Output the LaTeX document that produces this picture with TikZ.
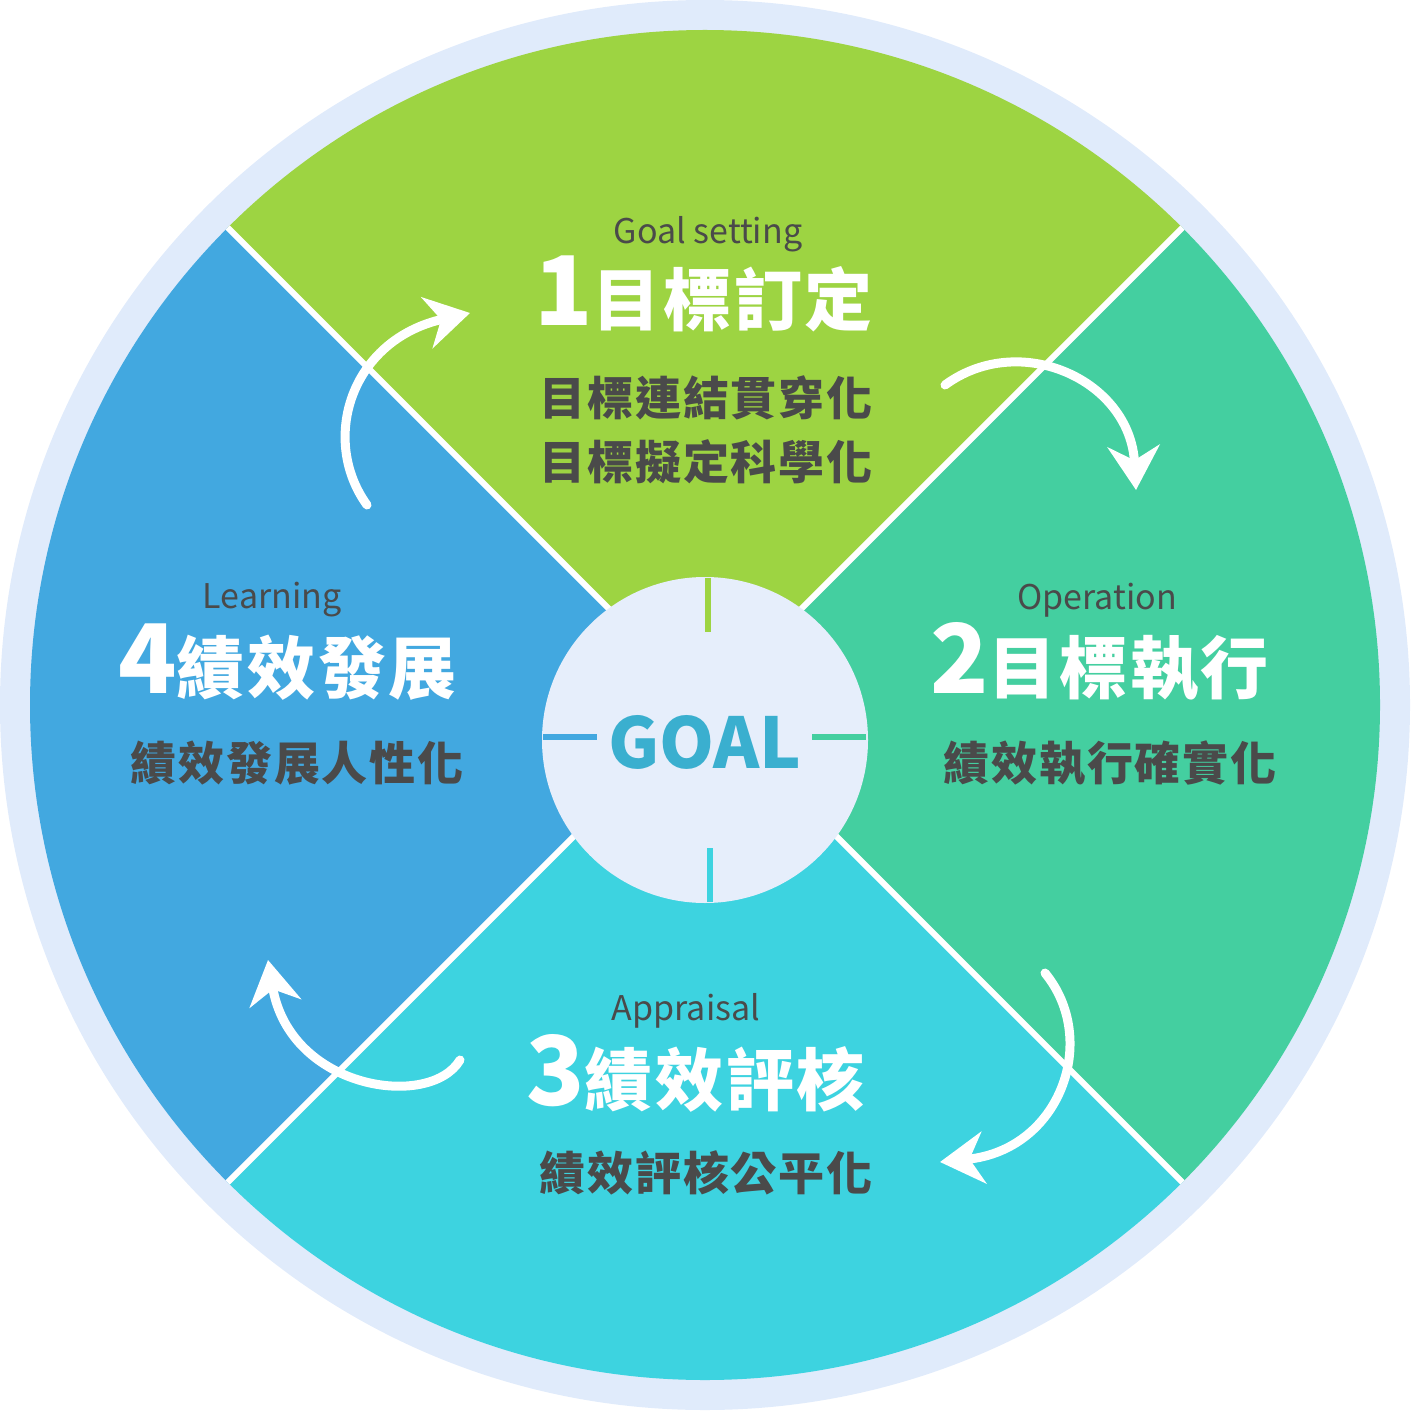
\documentclass[tikz,border=0pt]{standalone}
\usepackage{fontspec}
\setmainfont{Noto Sans CJK TC}
\newfontfamily\spaced[LetterSpace=4]{Noto Sans CJK TC}
\usetikzlibrary{arrows.meta}
\definecolor{ringc}{HTML}{E0EBFB}
\definecolor{goalg}{HTML}{9DD442}
\definecolor{operg}{HTML}{44CFA0}
\definecolor{apprc}{HTML}{3DD3E0}
\definecolor{learnb}{HTML}{42A8E0}
\definecolor{hubc}{HTML}{E6EEFB}
\definecolor{textc}{HTML}{4A4A4A}
\definecolor{goalc}{HTML}{3AAFCF}
\newcommand{\bignum}[1]{{\fontsize{48}{48}\selectfont #1}}
\tikzset{
  engl/.style={text=textc,font=\fontsize{17}{17}\selectfont},
  titl/.style={text=white,font=\spaced\bfseries\fontsize{34}{34}\selectfont,inner sep=0pt},
  subt/.style={text=textc,font=\spaced\bfseries\fontsize{23}{32}\selectfont,align=center},
  swirl/.style={white,line width=4.5pt,line cap=round,-{Stealth[length=22pt,width=26pt]}},
  tick/.style={line width=3pt}
}
\begin{document}
\begin{tikzpicture}[x=0.5pt,y=-0.5pt]
  \useasboundingbox (0,0) rectangle (1410,1411);
  \fill[ringc] (705,705) circle (705);
  \begin{scope}
    \clip (705,705) circle (675);
    \fill[goalg] (705,705) -- (-100,-100) -- (1510,-100) -- cycle;
    \fill[operg] (705,705) -- (1510,-100) -- (1510,1510) -- cycle;
    \fill[apprc] (705,705) -- (1510,1510) -- (-100,1510) -- cycle;
    \fill[learnb] (705,705) -- (-100,1510) -- (-100,-100) -- cycle;
    \draw[white,line width=3pt] (0,0) -- (1410,1410) (1410,0) -- (0,1410);
  \end{scope}
  \fill[hubc] (705,740) circle (163);
  % ticks round the hub
  \draw[tick,goalg] (708,578) -- (708,632);
  \draw[tick,learnb] (543,737) -- (597,737);
  \draw[tick,operg] (812,737) -- (866,737);
  \draw[tick,apprc] (710,848) -- (710,902);
  \node[text=goalc,font=\bfseries\fontsize{35}{35}\selectfont] (goal) at (705,742) {GOAL};
  % 1
  \node[engl] (e1) at (708,234) {Goal setting};
  \node[titl,anchor=west] (t1) at (534,294) {\bignum{1}目標訂定};
  \node[subt] (s1) at (706,430) {目標連結貫穿化\\目標擬定科學化};
  % 2
  \node[engl] (e2) at (1097,600) {Operation};
  \node[titl,anchor=west] (t2) at (930,662) {\bignum{2}目標執行};
  \node[subt] (s2) at (1110,763) {績效執行確實化};
  % 3
  \node[engl] (e3) at (686,1011) {Appraisal};
  \node[titl,anchor=west] (t3) at (526,1073) {\bignum{3}績效評核};
  \node[subt] (s3) at (706,1173) {績效評核公平化};
  % 4
  \node[engl] (e4) at (272,600) {Learning};
  \node[titl,anchor=west] (t4) at (118,662) {\bignum{4}績效發展};
  \node[subt] (s4) at (297,763) {績效發展人性化};
  % arrows
  \draw[swirl] (367,505) .. controls (320,440) and (350,340) .. (470,313);
  \draw[swirl] (945,385) .. controls (1020,330) and (1130,380) .. (1136,490);
  \draw[swirl] (1045,973) .. controls (1100,1040) and (1060,1150) .. (940,1162);
  \draw[swirl] (460,1060) .. controls (430,1110) and (290,1090) .. (268,960);
\end{tikzpicture}
\end{document}
